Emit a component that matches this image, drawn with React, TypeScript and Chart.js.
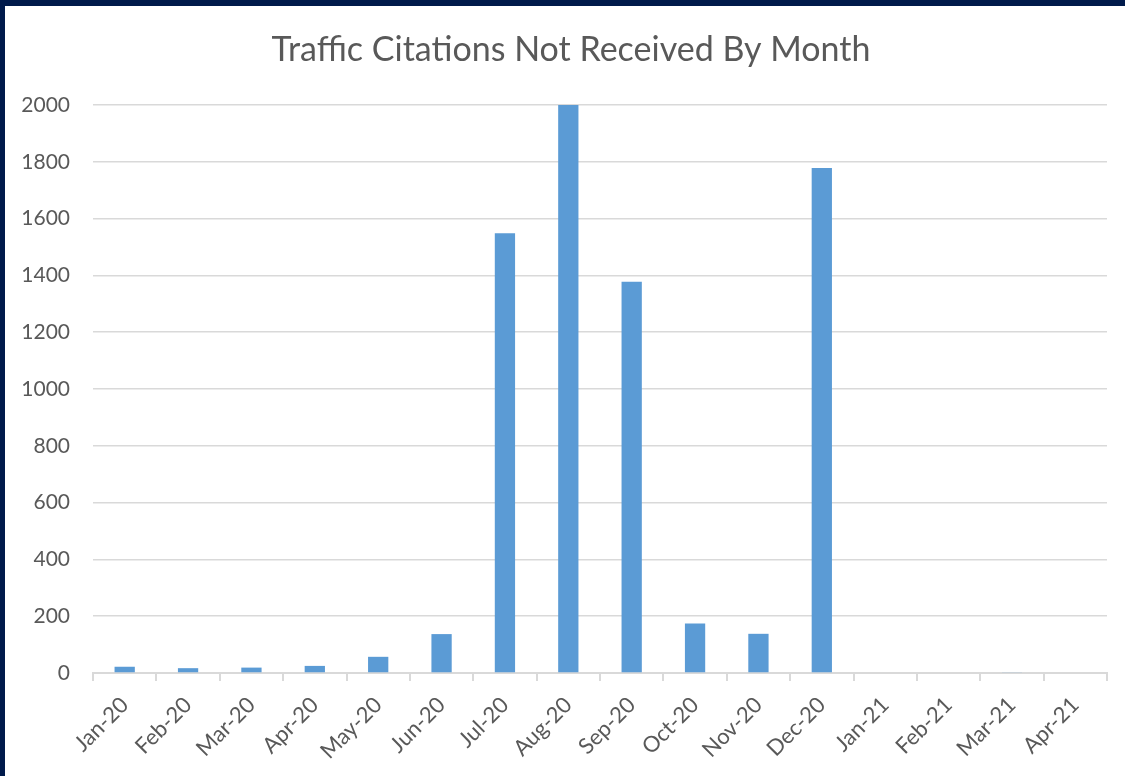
import React, { useEffect, useRef } from "react";
import { Chart, registerables } from "chart.js";

Chart.register(...registerables);

const months = [
  "Jan-20", "Feb-20", "Mar-20", "Apr-20", "May-20", "Jun-20", "Jul-20", "Aug-20",
  "Sep-20", "Oct-20", "Nov-20", "Dec-20", "Jan-21", "Feb-21", "Mar-21", "Apr-21",
];
const citationsNotReceived = [22, 17, 19, 25, 57, 137, 1548, 2000, 1378, 174, 138, 1778, 0, 0, 3, 0];
const yTicks = [0, 200, 400, 600, 800, 1000, 1200, 1400, 1600, 1800, 2000];
const chartTitle = "Traffic Citations Not Received By Month";

const FONT = "Lato, 'Open Sans', sans-serif";
const GREY = "#595959";

const titlePlugin = {
  id: "centeredTitle",
  afterDraw(chart: any) {
    const ctx = chart.ctx;
    ctx.save();
    ctx.font = `normal 34px ${FONT}`;
    ctx.fillStyle = GREY;
    ctx.textAlign = "center";
    ctx.textBaseline = "middle";
    ctx.fillText(chartTitle, 566, 44);
    ctx.restore();
  },
};

export default function App() {
  const ref = useRef<HTMLCanvasElement>(null);
  useEffect(() => {
    document.body.style.margin = "0";
    document.body.style.background = "#001a4b";
    const chart = new Chart(ref.current!, {
      type: "bar",
      data: {
        labels: months,
        datasets: [
          {
            label: "Citations",
            data: citationsNotReceived,
            backgroundColor: "#5b9bd5",
            borderWidth: 0,
            barPercentage: 0.32,
            categoryPercentage: 1,
          },
        ],
      },
      options: {
        responsive: false,
        animation: false,
        layout: { padding: { left: 0, right: 18, top: 99, bottom: 0 } },
        plugins: {
          legend: { display: false },
          tooltip: { enabled: false },
          title: { display: false },
        },
        scales: {
          x: {
            grid: {
              offset: true,
              drawOnChartArea: false,
              drawTicks: true,
              tickLength: 8,
              color: "#d9d9d9",
              lineWidth: 2,
            },
            border: { display: true, color: "#d9d9d9", width: 2 },
            ticks: {
              color: GREY,
              font: { family: FONT, size: 22 },
              maxRotation: 45,
              minRotation: 45,
              autoSkip: false,
              padding: 11,
            },
            afterFit: (scale: any) => {
              scale.height = 103;
            },
          },
          y: {
            min: 0,
            max: 2000,
            afterBuildTicks: (scale: any) => {
              scale.ticks = yTicks.map((v) => ({ value: v }));
            },
            grid: { color: "#d9d9d9", lineWidth: 1.5, drawTicks: false },
            border: { display: false },
            ticks: {
              color: GREY,
              font: { family: FONT, size: 21 },
              padding: 23,
              callback: (v: any) => String(v),
            },
            afterFit: (scale: any) => {
              scale.width = 88;
            },
          },
        },
      },
      plugins: [titlePlugin],
    });
    return () => chart.destroy();
  }, []);
  return (
    <div style={{ position: "absolute", left: 5, top: 6, width: 1120, height: 770, background: "#ffffff" }}>
      <canvas ref={ref} width={1120} height={770} style={{ display: "block" }} />
    </div>
  );
}
